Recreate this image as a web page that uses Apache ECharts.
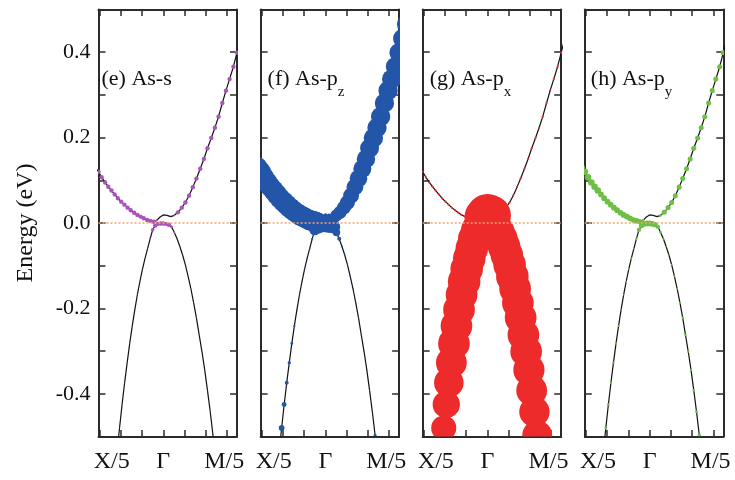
<!DOCTYPE html>
<html>
<head>
<meta charset="utf-8">
<script src="https://cdn.jsdelivr.net/npm/echarts@6/dist/echarts.min.js"></script>
<style>html,body{margin:0;padding:0;background:#fff}#c{width:735px;height:480px}</style>
</head>
<body>
<div id="c"></div>
<script>
// ---------- data ----------
// k-path coordinate (Gamma = 0), X/5 side negative, M/5 side positive
const K_UPPER = [-3.20,-3.05,-2.90,-2.74,-2.59,-2.44,-2.29,-2.14,-1.98,-1.83,-1.68,-1.53,-1.37,-1.22,-1.07,-0.92,-0.76,-0.61,-0.46,-0.31,-0.15,0,0.17,0.35,0.52,0.69,0.87,1.04,1.21,1.39,1.56,1.74,1.91,2.08,2.26,2.43,2.60,2.78,2.95,3.12,3.30,3.47,3.64,3.82];
const K_LOWER = [-2.30,-2.18,-2.06,-1.94,-1.82,-1.70,-1.58,-1.46,-1.34,-1.22,-1.10,-0.98,-0.86,-0.74,-0.62,-0.50,-0.38,-0.26,-0.13,0,0.13,0.26,0.39,0.52,0.65,0.78,0.91,1.04,1.17,1.30,1.43,1.56,1.69,1.82,1.95,2.08,2.21,2.34,2.47,2.60];
// band energies (eV)
const E_UPPER = [0.130,0.120,0.107,0.095,0.085,0.076,0.067,0.058,0.050,0.043,0.036,0.030,0.024,0.019,0.015,0.011,0.007,0.005,0.003,0.006,0.014,0.019,0.018,0.015,0.018,0.025,0.036,0.048,0.064,0.084,0.104,0.127,0.150,0.175,0.199,0.223,0.249,0.281,0.310,0.337,0.366,0.399,0.432,0.466];
const E_LOWER = [-0.598,-0.537,-0.480,-0.425,-0.374,-0.327,-0.282,-0.241,-0.203,-0.168,-0.137,-0.108,-0.083,-0.060,-0.037,-0.016,-0.006,-0.002,-0.001,-0.001,-0.002,-0.004,-0.009,-0.022,-0.037,-0.055,-0.075,-0.098,-0.125,-0.154,-0.187,-0.222,-0.262,-0.301,-0.344,-0.392,-0.442,-0.497,-0.553,-0.610];
// orbital weights along each band
const W_S_UPPER  = [0.1,0.1,0.1,0.1,0.1,0.1,0.1,0.1,0.1,0.1,0.1,0.1,0.1,0.1,0.1,0.1,0.1,0.1,0.1,0.05,0.01,0.01,0.01,0.01,0.04,0.1,0.1,0.1,0.1,0.1,0.1,0.1,0.1,0.1,0.1,0.1,0.1,0.1,0.1,0.1,0.1,0.1,0.1,0.1];
const W_S_LOWER  = [0.02,0.02,0.02,0.02,0.02,0.02,0.02,0.02,0.02,0.02,0.02,0.02,0.02,0.02,0.04,0.08,0.1,0.1,0.1,0.1,0.1,0.1,0.07,0.04,0.02,0.02,0.02,0.02,0.02,0.02,0.02,0.02,0.02,0.02,0.02,0.02,0.02,0.02,0.02,0.02];
const W_PZ_UPPER = [0.47,0.47,0.47,0.47,0.47,0.47,0.47,0.47,0.47,0.47,0.47,0.47,0.47,0.47,0.47,0.47,0.47,0.47,0.47,0.35,0.12,0.08,0.08,0.15,0.28,0.3,0.32,0.34,0.36,0.38,0.4,0.41,0.42,0.43,0.44,0.44,0.44,0.44,0.44,0.44,0.44,0.44,0.44,0.44];
const W_PZ_LOWER = [0.03,0.03,0.13,0.11,0.09,0.075,0.065,0.05,0.035,0.03,0.03,0.03,0.03,0.035,0.05,0.25,0.38,0.4,0.4,0.4,0.4,0.38,0.3,0.17,0.09,0.05,0.035,0.025,0.025,0.025,0.025,0.025,0.025,0.025,0.025,0.025,0.025,0.065,0.03,0.03];
const W_PX_UPPER = [0.05,0.05,0.05,0.05,0.05,0.05,0.05,0.05,0.05,0.05,0.05,0.05,0.05,0.05,0.05,0.05,0.05,0.05,0.12,0.7,0.9,0.95,0.9,0.7,0.15,0.1,0.05,0.05,0.05,0.05,0.05,0.05,0.05,0.05,0.05,0.05,0.05,0.05,0.05,0.05,0.05,0.05,0.05,0.05];
const W_PX_LOWER = [0.55,0.55,0.57,0.62,0.67,0.7,0.72,0.72,0.72,0.72,0.74,0.74,0.74,0.74,0.74,0.72,0.72,0.72,0.72,0.72,0.72,0.72,0.72,0.74,0.74,0.74,0.74,0.74,0.74,0.72,0.72,0.72,0.72,0.72,0.71,0.7,0.69,0.68,0.66,0.64];
const W_PY_UPPER = [0.15,0.15,0.15,0.15,0.15,0.15,0.13,0.13,0.13,0.13,0.13,0.13,0.13,0.13,0.13,0.13,0.13,0.13,0.12,0.06,0.01,0.01,0.01,0.01,0.06,0.115,0.115,0.115,0.115,0.115,0.115,0.115,0.115,0.115,0.115,0.115,0.115,0.115,0.115,0.115,0.115,0.115,0.115,0.115];
const W_PY_LOWER = [0.06,0.06,0.065,0.06,0.055,0.05,0.055,0.045,0.035,0.033,0.035,0.04,0.04,0.035,0.05,0.1,0.12,0.13,0.13,0.13,0.13,0.12,0.1,0.06,0.04,0.033,0.033,0.033,0.035,0.04,0.05,0.055,0.055,0.055,0.055,0.06,0.065,0.075,0.07,0.07];

const PANEL_TITLES = ['(e) As-s', '(f) As-p', '(g) As-p', '(h) As-p'];
const PANEL_SUBS = ['', 'z', 'x', 'y'];
const PANEL_UPPER_W = [W_S_UPPER, W_PZ_UPPER, W_PX_UPPER, W_PY_UPPER];
const PANEL_LOWER_W = [W_S_LOWER, W_PZ_LOWER, W_PX_LOWER, W_PY_LOWER];
const FERMI_LEVEL = 0;

const X_LABELS = ['X/5', 'Γ', 'M/5'];
const X_LABEL_POS = [-2.43, 0, 2.87];
const X_TICKS = [-3, -2, -1, 0, 1, 2, 3];
const Y_LABELS = ['-0.4', '-0.2', '0.0', '0.2', '0.4'];
const Y_LABEL_POS = [-0.4, -0.2, 0, 0.2, 0.4];
const Y_NAME = 'Energy (eV)';

// ---------- layout & style ----------
const X_MIN = -3.05, X_MAX = 3.47, Y_MIN = -0.5, Y_MAX = 0.5, Y_STEP = 0.1;
const GRID_LEFT = 98.5, GRID_STEP = 162.1, GRID_W = 138.5, GRID_TOP = 9.5, GRID_H = 427;
const TITLE_DX = [3, 7, 7, 6], TITLE_Y = 79.6;
const SIZE_SCALE = 44;
const COLORS = ['#a855b8', '#2356a8', '#ee2b2b', '#6dbf46'];
const AX = '#2b2b2b';
const FONT = '"Liberation Serif", "Times New Roman", serif';

const lookup = (vals, labels) => (v) => {
  const i = vals.findIndex(p => Math.abs(p - v) < 1e-6);
  return i >= 0 ? labels[i] : '';
};

const grids = [], xAxes = [], yAxes = [], series = [], graphics = [];
PANEL_TITLES.forEach((title, i) => {
  const left = GRID_LEFT + GRID_STEP * i;
  grids.push({ left, top: GRID_TOP, width: GRID_W, height: GRID_H, containLabel: false, outerBoundsMode: 'none' });
  const axLine = { show: true, onZero: false, lineStyle: { color: AX, width: 2 } };
  const xTick = { show: true, inside: true, length: 6.5, customValues: X_TICKS, lineStyle: { color: AX, width: 1.5 } };
  const yTick = { show: true, inside: true, length: 7, lineStyle: { color: AX, width: 1.5 } };
  xAxes.push({
    gridIndex: i, type: 'value', min: X_MIN, max: X_MAX, position: 'bottom',
    axisLine: axLine, axisTick: xTick, splitLine: { show: false },
    axisLabel: { show: true, customValues: X_LABEL_POS, formatter: lookup(X_LABEL_POS, X_LABELS),
      fontFamily: FONT, fontSize: 24, color: '#111', margin: 13 }
  });
  xAxes.push({
    gridIndex: i, type: 'value', min: X_MIN, max: X_MAX, position: 'top',
    axisLine: axLine, axisTick: xTick, splitLine: { show: false }, axisLabel: { show: false }
  });
  yAxes.push({
    gridIndex: i, type: 'value', min: Y_MIN, max: Y_MAX, interval: Y_STEP, position: 'left',
    axisLine: axLine, axisTick: yTick, splitLine: { show: false },
    axisLabel: { show: i === 0, customValues: Y_LABEL_POS, formatter: lookup(Y_LABEL_POS, Y_LABELS),
      fontFamily: FONT, fontSize: 22, color: '#111', margin: 8 },
    name: i === 0 ? Y_NAME : '', nameLocation: 'middle', nameGap: 61,
    nameTextStyle: { fontFamily: FONT, fontSize: 24, color: '#111' }
  });
  yAxes.push({
    gridIndex: i, type: 'value', min: Y_MIN, max: Y_MAX, interval: Y_STEP, position: 'right',
    axisLine: axLine, axisTick: yTick, splitLine: { show: false }, axisLabel: { show: false }
  });

  const xi = 2 * i, yi = 2 * i;
  const color = COLORS[i];
  const bands = [
    { k: K_UPPER, e: E_UPPER, w: PANEL_UPPER_W[i] },
    { k: K_LOWER, e: E_LOWER, w: PANEL_LOWER_W[i] }
  ];
  bands.forEach((b, bi) => {
    series.push({
      type: 'line', xAxisIndex: xi, yAxisIndex: yi, z: 2,
      data: b.k.map((k, j) => [k, b.e[j]]), showSymbol: false, symbol: 'none',
      lineStyle: { color: '#111', width: 1.2 }, silent: true, clip: true,
      markLine: bi === 0 ? {
        silent: true, symbol: ['none', 'none'], label: { show: false }, z: 10, animation: false,
        lineStyle: { color: '#f5a46c', width: 1.7, type: [2, 2] },
        data: [{ yAxis: FERMI_LEVEL }]
      } : undefined
    });
  });
  [bands[1], bands[0]].forEach((b) => {
    series.push({
      type: 'custom', xAxisIndex: xi, yAxisIndex: yi, z: 3, clip: true, silent: true,
      data: b.k.map((k, j) => [k, b.e[j], b.w[j]]),
      renderItem: (params, api) => {
        const p = api.coord([api.value(0), api.value(1)]);
        const r = api.value(2) * SIZE_SCALE / 2;
        return { type: 'circle', shape: { cx: p[0], cy: p[1], r }, style: { fill: color } };
      }
    });
  });

  const sub = PANEL_SUBS[i];
  graphics.push({
    type: 'text', x: left + TITLE_DX[i], y: TITLE_Y, z: 20, silent: true,
    style: {
      text: sub ? `{m|${title}}{s|${sub}}` : `{m|${title}}`,
      rich: {
        m: { fontFamily: FONT, fontSize: 22, fill: '#111', verticalAlign: 'middle' },
        s: { fontFamily: FONT, fontSize: 15, fill: '#111', verticalAlign: 'middle', padding: [24, 0, 0, 0] }
      },
      align: 'left', verticalAlign: 'middle'
    }
  });
});

const chart = echarts.init(document.getElementById('c'));
chart.setOption({
  animation: false,
  backgroundColor: '#fff',
  grid: grids, xAxis: xAxes, yAxis: yAxes, series,
  graphic: graphics
});
</script>
</body>
</html>
